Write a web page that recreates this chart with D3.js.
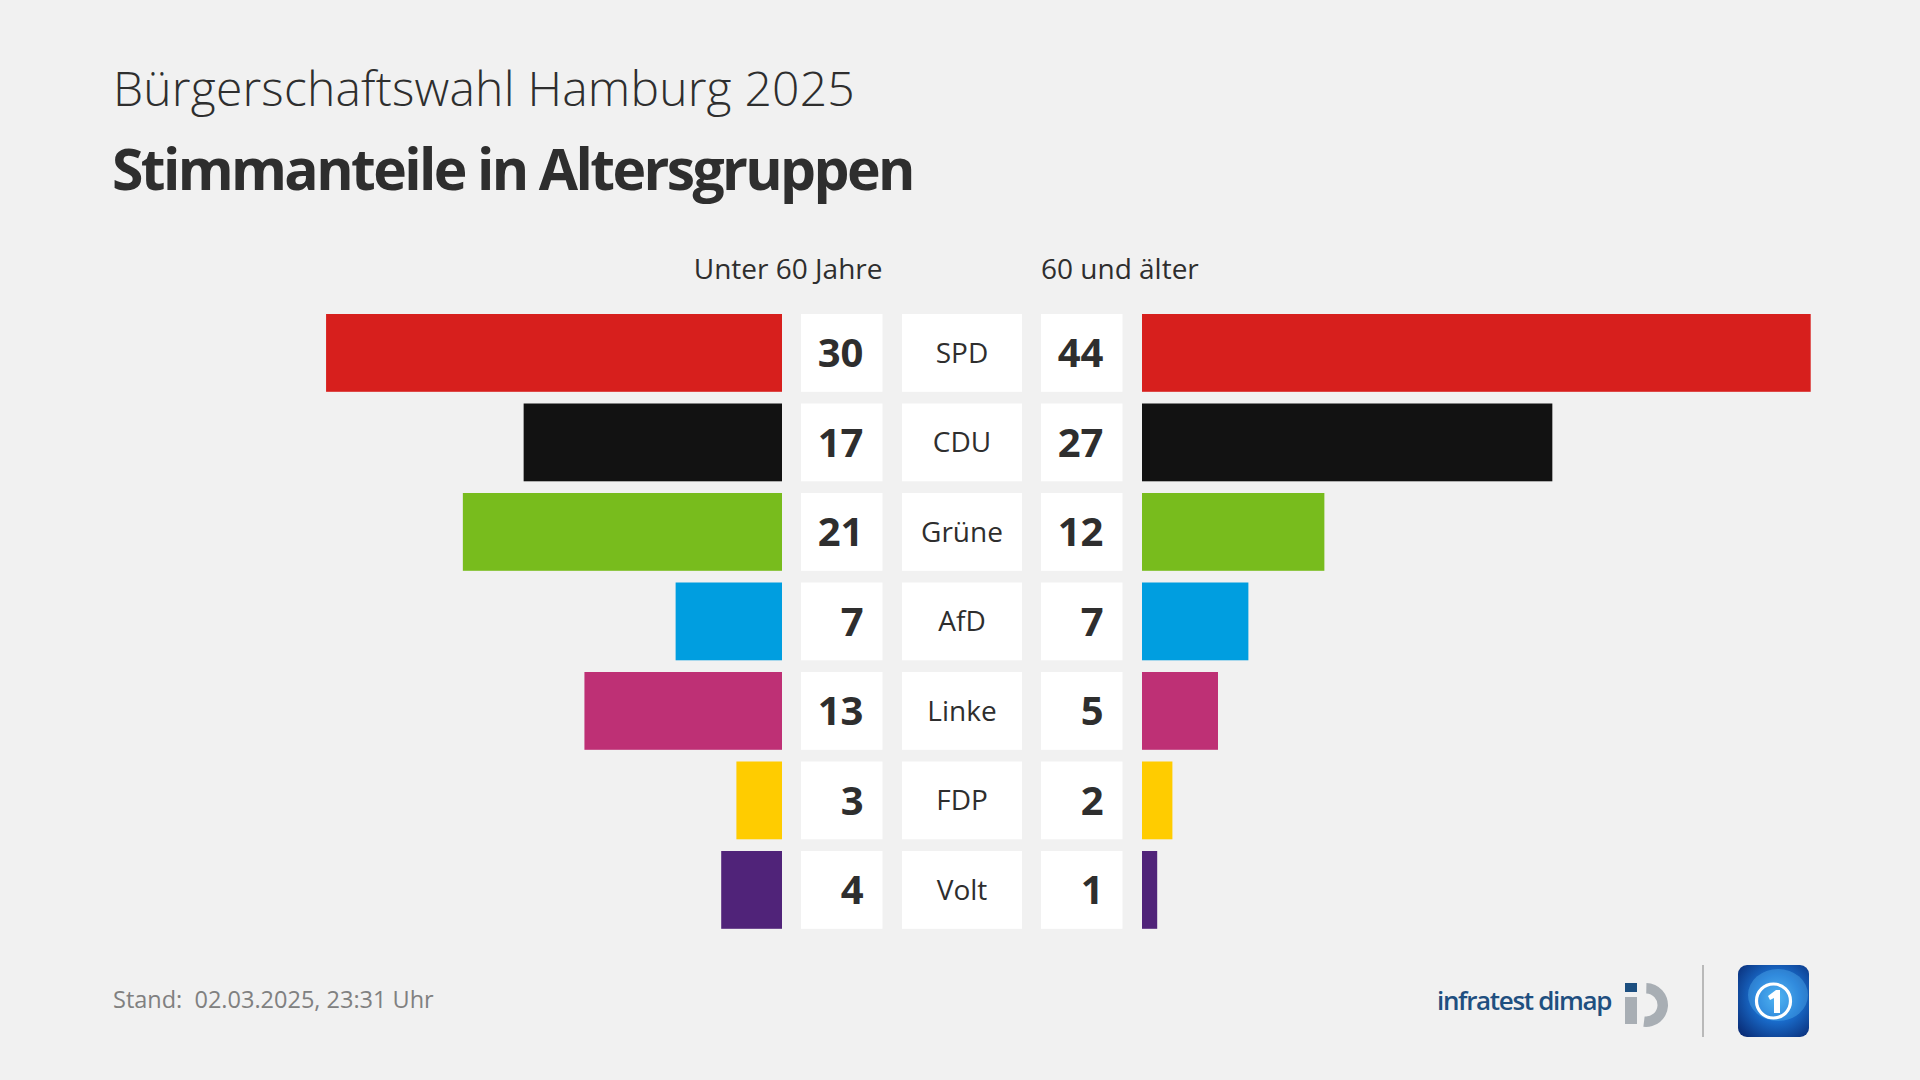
<!DOCTYPE html>
<html>
<head>
<meta charset="utf-8">
<script src="https://cdn.jsdelivr.net/npm/d3@7"></script>
<style>
  html, body { margin: 0; padding: 0; background: #f1f1f1; }
  svg { display: block; }
  text { font-family: "Open Sans", "Noto Sans", sans-serif; }
</style>
</head>
<body>
<svg id="chart" width="1920" height="1080"></svg>
<script>
// ---- data ----
const parties = ["SPD", "CDU", "Grüne", "AfD", "Linke", "FDP", "Volt"];
const colors = ["#d71f1d", "#121212", "#78bc1d", "#009ee0", "#be3075", "#ffcc00", "#502379"];
const under60 = [30, 17, 21, 7, 13, 3, 4];
const over60 = [44, 27, 12, 7, 5, 2, 1];
const groupLabels = ["Unter 60 Jahre", "60 und älter"];
const subtitleText = "Bürgerschaftswahl Hamburg 2025";
const titleText = "Stimmanteile in Altersgruppen";
const footerText = "Stand:  02.03.2025, 23:31 Uhr";
const sourceText = "infratest dimap";

// ---- layout ----
const W = 1920, H = 1080;
const leftBarEnd = 782, rightBarStart = 1142;
const leftBox = [801, 882.5], partyBox = [902, 1022], rightBox = [1041, 1122.5];
const textColor = "#2e2e2e";

const svg = d3.select("#chart");
svg.append("rect").attr("width", W).attr("height", H).attr("fill", "#f1f1f1");

const x = d3.scaleLinear().domain([0, 44]).range([0, 668.7]);
const y = d3.scaleBand().domain(parties).range([314, 928.8]).paddingInner(0.1307).paddingOuter(0);

function fitText(sel, target) {
  const node = sel.node();
  const w = node.getComputedTextLength();
  const n = sel.text().length;
  if (n > 1) sel.attr("letter-spacing", ((target - w) / n).toFixed(2));
}

// titles
const sub = svg.append("text").attr("x", 113).attr("y", 106)
  .attr("font-size", 48).attr("font-weight", 300).attr("fill", textColor).text(subtitleText);
fitText(sub, 742);
const tit = svg.append("text").attr("x", 112).attr("y", 190)
  .attr("font-size", 57).attr("font-weight", 700).attr("fill", textColor).text(titleText);
fitText(tit, 801);

// group headers
const h1 = svg.append("text").attr("x", leftBox[1]).attr("y", 279).attr("text-anchor", "end")
  .attr("font-size", 28).attr("fill", textColor).text(groupLabels[0]);
const h2 = svg.append("text").attr("x", rightBox[0]).attr("y", 279).attr("text-anchor", "start")
  .attr("font-size", 28).attr("fill", textColor).text(groupLabels[1]);

const rows = svg.append("g").selectAll("g").data(parties).join("g")
  .attr("transform", d => `translate(0,${y(d)})`);
const bw = y.bandwidth();

// left bars
rows.append("rect")
  .attr("x", (d, i) => leftBarEnd - x(under60[i]))
  .attr("width", (d, i) => x(under60[i]))
  .attr("height", bw).attr("fill", (d, i) => colors[i]);
// right bars
rows.append("rect")
  .attr("x", rightBarStart)
  .attr("width", (d, i) => x(over60[i]))
  .attr("height", bw).attr("fill", (d, i) => colors[i]);

// boxes
[leftBox, partyBox, rightBox].forEach(b => {
  rows.append("rect").attr("x", b[0]).attr("width", b[1] - b[0]).attr("height", bw).attr("fill", "#ffffff");
});

// value labels
rows.append("text").attr("x", leftBox[1] - 19).attr("y", bw / 2).attr("dy", "0.36em")
  .attr("text-anchor", "end").attr("font-size", 40).attr("font-weight", 700).attr("fill", textColor)
  .text((d, i) => under60[i]);
rows.append("text").attr("x", rightBox[1] - 19).attr("y", bw / 2).attr("dy", "0.36em")
  .attr("text-anchor", "end").attr("font-size", 40).attr("font-weight", 700).attr("fill", textColor)
  .text((d, i) => over60[i]);
// party labels
rows.append("text").attr("x", (partyBox[0] + partyBox[1]) / 2).attr("y", bw / 2).attr("dy", "0.36em")
  .attr("text-anchor", "middle").attr("font-size", 28).attr("fill", textColor)
  .text(d => d);

// footer
svg.append("text").attr("x", 113).attr("y", 1008).attr("font-size", 23.5).attr("fill", "#808080")
  .style("white-space", "pre").text(footerText);

// infratest dimap logo
const src = svg.append("text").attr("x", 1437).attr("y", 1010).attr("font-size", 26)
  .attr("font-weight", 600).attr("fill", "#1f4f80").text(sourceText);
fitText(src, 174);
const logo = svg.append("g");
logo.append("rect").attr("x", 1625).attr("y", 983).attr("width", 12).attr("height", 9).attr("fill", "#1d4f80");
logo.append("rect").attr("x", 1625).attr("y", 997).attr("width", 12).attr("height", 27).attr("fill", "#a8aeb4");
logo.append("path").attr("transform", "translate(1646,1005)")
  .attr("d", d3.arc()({innerRadius: 11.5, outerRadius: 22, startAngle: 0.02, endAngle: Math.PI + 0.12}))
  .attr("fill", "#a8aeb4");

// separator
svg.append("line").attr("x1", 1703).attr("x2", 1703).attr("y1", 965).attr("y2", 1037)
  .attr("stroke", "#b9b9b9").attr("stroke-width", 2);

// tagesschau logo
const defs = svg.append("defs");
const grad = defs.append("radialGradient").attr("id", "globe").attr("cx", "55%").attr("cy", "45%").attr("r", "70%");
grad.append("stop").attr("offset", "0%").attr("stop-color", "#4ab0f0");
grad.append("stop").attr("offset", "45%").attr("stop-color", "#1a6fcf");
grad.append("stop").attr("offset", "100%").attr("stop-color", "#0a2f7a");
const ts = svg.append("g").attr("transform", "translate(1738,965)");
ts.append("rect").attr("width", 71).attr("height", 72).attr("rx", 9).attr("fill", "url(#globe)");
ts.append("ellipse").attr("cx", 40).attr("cy", 30).attr("rx", 30).attr("ry", 26).attr("fill", "#5cbcf5").attr("opacity", 0.35);
ts.append("circle").attr("cx", 35.5).attr("cy", 36).attr("r", 17).attr("fill", "none").attr("stroke", "#ffffff").attr("stroke-width", 3.2);
ts.append("path").attr("d", "M30,31 L38,25 L42,25 L42,48 L36,48 L36,33 L32,35 Z").attr("fill", "#ffffff");
</script>
</body>
</html>
